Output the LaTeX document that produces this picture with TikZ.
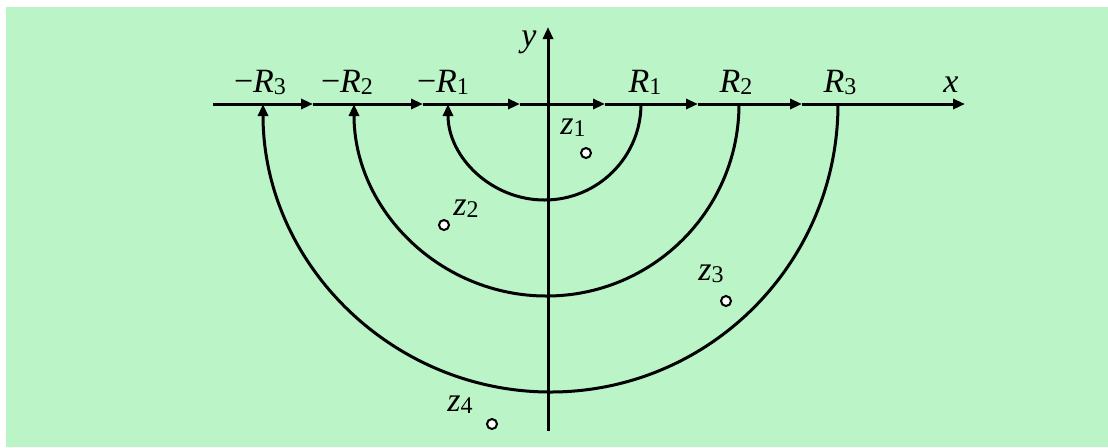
\documentclass[tikz,border=0pt]{standalone}
\usepackage{fontspec}
\setmainfont{Liberation Serif}
\usetikzlibrary{arrows.meta}
\definecolor{paper}{HTML}{BBF4C7}
\newcommand{\lbl}[2]{\textit{#1}{\fontsize{12}{12}\selectfont\raisebox{-1.2pt}{#2}}}

\begin{document}
\begin{tikzpicture}[x=0.5pt, y=-0.5pt,
    flow/.style={line width=1.5pt, -{Triangle[length=6pt, width=5pt]}},
    tag/.style={anchor=base, inner sep=0pt, font=\fontsize{17}{20}\selectfont},
    pole/.style={circle, draw, fill=white, line width=1pt, minimum size=5pt, inner sep=0pt}]
  \useasboundingbox (0,0) rectangle (1108,447);
  \fill[paper] (6,7) rectangle (1108,447);

  % axes
  \foreach \t [count=\i from 0] in {213,313,423,520,605,698,802,965}
    \coordinate (a\i) at (\t,104);
  \foreach \i/\j in {0/1,1/2,2/3,3/4,4/5,5/6,6/7}
    \draw[flow] (a\i) -- (a\j);
  \coordinate (ybot) at (548,431);
  \coordinate (ytop) at (548,27);
  \draw[flow] (ybot) -- (ytop);
  \node[tag] (xlbl) at (951,92) {\textit{x}};
  \node[tag] (ylbl) at (529,46) {\textit{y}};

  % semicircles
  \coordinate (r1) at (641,104);
  \coordinate (r2) at (739,104);
  \coordinate (r3) at (838,104);
  \draw[flow] (r1) arc[start angle=0, end angle=180, x radius=96.5, y radius=96];
  \draw[flow] (r2) arc[start angle=0, end angle=180, x radius=192.5, y radius=192];
  \draw[flow] (r3) arc[start angle=0, end angle=180, x radius=287.5, y radius=288];

  \node[tag] (mr3) at (260,92) {−\lbl{R}{3}};
  \node[tag] (mr2) at (347,92) {−\lbl{R}{2}};
  \node[tag] (mr1) at (443,92) {−\lbl{R}{1}};
  \node[tag] (pr1) at (645,92) {\lbl{R}{1}};
  \node[tag] (pr2) at (736,92) {\lbl{R}{2}};
  \node[tag] (pr3) at (840,92) {\lbl{R}{3}};

  % poles
  \node[pole] (p1) at (586,153) {};
  \node[pole] (p2) at (444,225) {};
  \node[pole] (p3) at (726,301) {};
  \node[pole] (p4) at (492,424) {};
  \node[tag] (z1) at (573,134) {\lbl{z}{1}};
  \node[tag] (z2) at (466,215) {\lbl{z}{2}};
  \node[tag] (z3) at (711,280) {\lbl{z}{3}};
  \node[tag] (z4) at (460,411) {\lbl{z}{4}};
\end{tikzpicture}
\end{document}
